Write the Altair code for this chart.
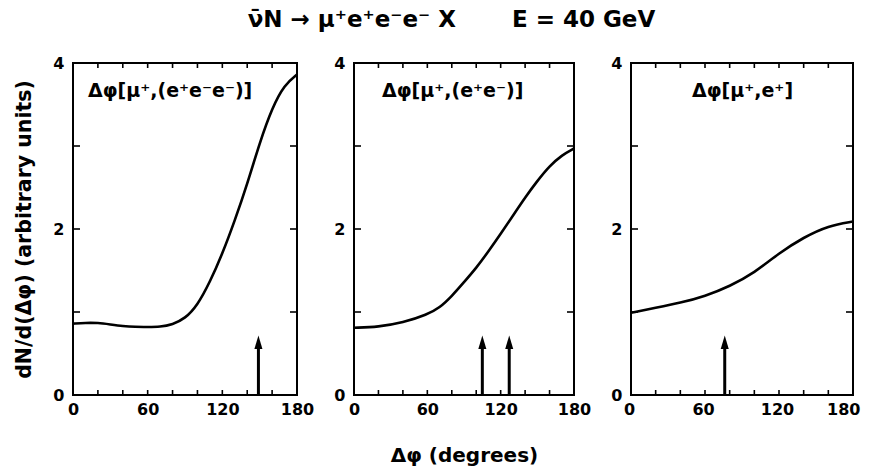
import altair as alt
import pandas as pd

NB = "\u00a0"
TITLE = "ν̄N → μ⁺e⁺e⁻e⁻ X" + NB * 7 + "E = 40 GeV"
X_TITLE = "Δφ (degrees)"
Y_TITLE = "dN/d(Δφ) (arbitrary units)"

panel_labels = ["Δφ[μ⁺,(e⁺e⁻e⁻)]", "Δφ[μ⁺,(e⁺e⁻)]", "Δφ[μ⁺,e⁺]"]

x1 = [0, 10, 20, 30, 40, 50, 60, 70, 80, 90, 100, 110, 120, 130, 140, 150, 160, 170, 180]
y1 = [0.86, 0.87, 0.87, 0.85, 0.83, 0.82, 0.82, 0.82, 0.85, 0.92, 1.08, 1.36, 1.70, 2.10, 2.54, 3.04, 3.46, 3.74, 3.86]

x2 = [0, 20, 40, 60, 70, 80, 90, 100, 110, 120, 130, 140, 150, 160, 170, 180]
y2 = [0.81, 0.82, 0.87, 0.97, 1.05, 1.19, 1.36, 1.53, 1.73, 1.94, 2.16, 2.38, 2.58, 2.76, 2.89, 2.97]

x3 = [0, 20, 40, 60, 80, 100, 120, 140, 160, 180]
y3 = [0.99, 1.05, 1.11, 1.19, 1.31, 1.47, 1.71, 1.90, 2.04, 2.09]

arrows1 = [149]
arrows2 = [105, 127]
arrows3 = [76]

x_label_vals = [0, 60, 120, 180]
y_label_vals = [0, 2, 4]
x_tick_vals = [20, 40, 60, 80, 100, 120, 140, 160]
y_tick_vals = [1, 2, 3]

FONT = "DejaVu Sans"
H = 332
WIDTHS = [224, 220, 222]
LABEL_DX = [15, 28, 61]
ARROW_SHAFT_TOP = 0.56
ARROW_HEAD_Y = 0.635


def panel(xs, ys, arrows, label, label_dx, W, ytitle, xtitle, last):
    xs_ = alt.Scale(domain=[0, 180], nice=False, zero=False)
    ys_ = alt.Scale(domain=[0, 4], nice=False, zero=False)
    xaxis_kw = dict(values=x_label_vals, format="d", ticks=False, domain=False, grid=False,
                    labelFlush=False, labelPadding=6, labelFontSize=16, labelFont=FONT,
                    labelColor="black", labelFontWeight="bold")
    if last:
        xaxis_kw.update(
            labelAlign={"condition": {"test": "datum.value == 180", "value": "right"}, "value": "center"},
            labelOffset={"condition": {"test": "datum.value == 180", "value": 7}, "value": -2},
        )
    if xtitle:
        xaxis_kw.update(title=X_TITLE, titlePadding=28, titleFontSize=20,
                        titleFont=FONT, titleColor="black", titleFontWeight="bold")
    else:
        xaxis_kw.update(title="")
    yaxis_kw = dict(values=y_label_vals, format="d", ticks=False, domain=False, grid=False,
                    labelFlush=False, labelPadding=9, labelFontSize=16, labelFont=FONT,
                    labelColor="black", labelFontWeight="bold")
    if ytitle:
        yaxis_kw.update(title=Y_TITLE, titlePadding=18, titleFontSize=20.5,
                        titleFont=FONT, titleColor="black", titleFontWeight="bold")
    else:
        yaxis_kw.update(title="")

    def X(f):
        return alt.X(f, scale=xs_, axis=alt.Axis(**xaxis_kw))

    def Y(f):
        return alt.Y(f, scale=ys_, axis=alt.Axis(**yaxis_kw))

    df = pd.DataFrame({"x": xs, "y": ys})
    curve = alt.Chart(df).mark_line(color="black", strokeWidth=2.6, interpolate="basis").encode(
        x=X("x:Q"), y=Y("y:Q"))
    adf = pd.DataFrame({"ax": arrows})
    shafts = alt.Chart(adf).mark_rule(color="black", strokeWidth=3).encode(
        x=X("ax:Q"), y=alt.YDatum(0), y2=alt.Y2Datum(ARROW_SHAFT_TOP))
    heads = alt.Chart(adf).mark_point(shape="M0,-1L-0.6,1L0.6,1Z", filled=True, size=180,
                                      color="black", opacity=1).encode(
        x=X("ax:Q"), y=alt.YDatum(ARROW_HEAD_Y))
    xt = pd.DataFrame({"t": x_tick_vals})
    yt = pd.DataFrame({"t": y_tick_vals})
    xt_bot = alt.Chart(xt).mark_rule(color="black", strokeWidth=1.6).encode(
        x=X("t:Q"), y=alt.value(H), y2=alt.value(H - 5))
    xt_top = alt.Chart(xt).mark_rule(color="black", strokeWidth=1.6).encode(
        x=X("t:Q"), y=alt.value(0), y2=alt.value(5))
    yt_l = alt.Chart(yt).mark_rule(color="black", strokeWidth=1.6).encode(
        y=Y("t:Q"), x=alt.value(0), x2=alt.value(7))
    yt_r = alt.Chart(yt).mark_rule(color="black", strokeWidth=1.6).encode(
        y=Y("t:Q"), x=alt.value(W - 7), x2=alt.value(W))
    ldf = pd.DataFrame({"lab": [label]})
    txt = alt.Chart(ldf).mark_text(align="left", baseline="middle", fontSize=19, font=FONT,
                                   fontWeight="bold", color="black").encode(
        text="lab:N", x=alt.value(label_dx), y=alt.value(28))
    return alt.layer(curve, shafts, heads, xt_bot, xt_top, yt_l, yt_r, txt).properties(width=W, height=H)


p1 = panel(x1, y1, arrows1, panel_labels[0], LABEL_DX[0], WIDTHS[0], True, False, False)
p2 = panel(x2, y2, arrows2, panel_labels[1], LABEL_DX[1], WIDTHS[1], False, True, False)
p3 = panel(x3, y3, arrows3, panel_labels[2], LABEL_DX[2], WIDTHS[2], False, False, True)

chart = alt.hconcat(p1, p2, p3, spacing=57, bounds="flush").properties(
    title=alt.TitleParams(TITLE, anchor="middle", fontSize=23, font=FONT, fontWeight="bold",
                          color="black", offset=17, dx=14, dy=-5),
    padding={"left": 5, "right": 0, "top": 1, "bottom": 0},
    background="white",
).configure_view(stroke="black", strokeWidth=2)

chart.save("out.html", embed_options={"renderer": "svg", "actions": False})
